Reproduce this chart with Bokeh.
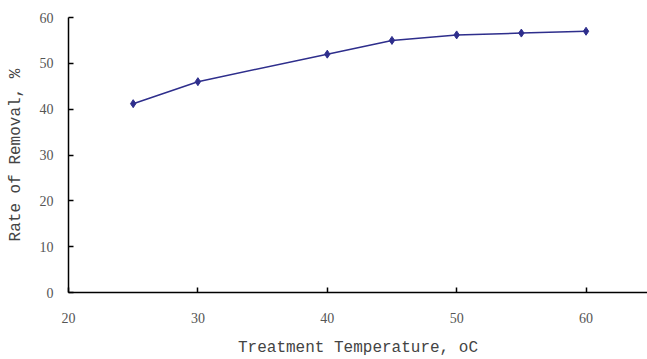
from bokeh.plotting import figure
from bokeh.models import Range1d, FixedTicker
from bokeh.embed import file_html
from bokeh.resources import INLINE

temperature = [25, 30, 40, 45, 50, 55, 60]
removal = [41.2, 46.0, 52.0, 55.0, 56.2, 56.6, 57.0]
x_ticks = [20, 30, 40, 50, 60]
y_ticks = [0, 10, 20, 30, 40, 50, 60]

p = figure(width=647, height=359, output_backend="svg", toolbar_location=None,
           x_range=Range1d(20, 64.75), y_range=Range1d(0, 60),
           min_border_left=68, min_border_right=0, min_border_top=17, min_border_bottom=64)
p.outline_line_color = None
p.xgrid.visible = False
p.ygrid.visible = False

line_color = "#2E2E8C"
p.line(temperature, removal, line_color=line_color, line_width=1.5)
p.scatter(temperature, removal, marker="diamond", size=8, fill_color=line_color, line_color=line_color)

for ax in (p.xaxis[0], p.yaxis[0]):
    ax.axis_line_color = "black"
    ax.axis_line_width = 1.5
    ax.major_tick_line_color = "black"
    ax.major_tick_line_width = 1.5
    ax.major_tick_in = 5
    ax.major_tick_out = 0
    ax.minor_tick_line_color = None
    ax.major_label_text_font = "Liberation Serif"
    ax.major_label_text_font_size = "14px"
    ax.major_label_text_color = "#555555"
    ax.axis_label_text_font = "Liberation Mono"
    ax.axis_label_text_font_size = "16px"
    ax.axis_label_text_font_style = "normal"
    ax.axis_label_text_color = "#444444"

p.xaxis.ticker = FixedTicker(ticks=x_ticks)
p.yaxis.ticker = FixedTicker(ticks=y_ticks)
p.xaxis.axis_label = "Treatment Temperature, oC"
p.yaxis.axis_label = "Rate of Removal, %"
p.xaxis.major_label_standoff = 20
p.yaxis.major_label_standoff = 15
p.xaxis.axis_label_standoff = 13
p.yaxis.axis_label_standoff = 12

open("out.html", "w").write(file_html(p, INLINE))
